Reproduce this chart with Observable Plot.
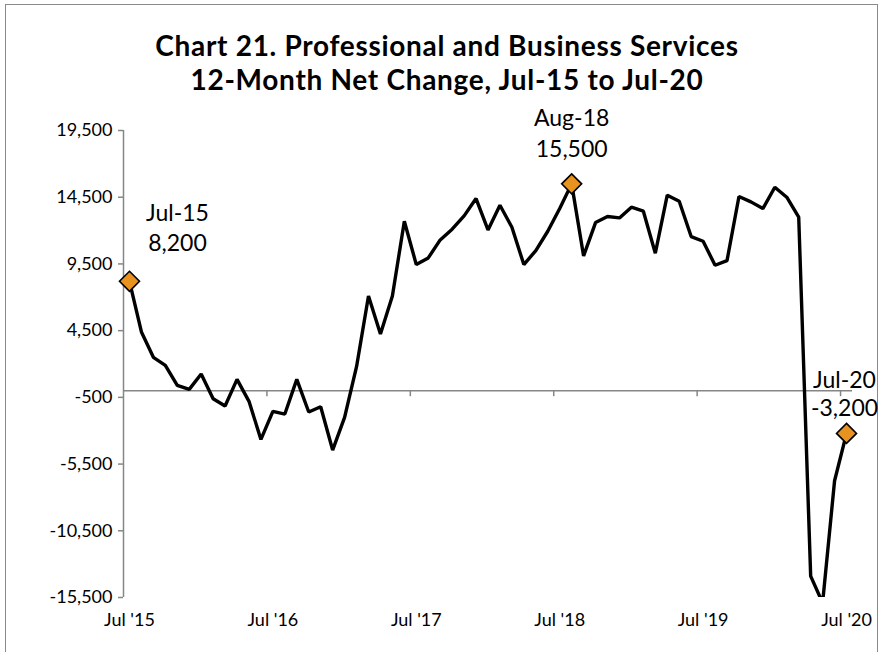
<!DOCTYPE html>
<html>
<head>
<meta charset="utf-8">
<script src="https://cdn.jsdelivr.net/npm/d3@7"></script>
<script src="https://cdn.jsdelivr.net/npm/@observablehq/plot@0.6"></script>
<style>
  body { margin: 0; background: #fff; }
  #wrap { position: relative; width: 883px; height: 652px; overflow: hidden; font-family: Lato, "Noto Sans", sans-serif; color: #000; }
  #frame { position: absolute; left: 5px; top: 4px; width: 873px; height: 700px; border: 1.5px solid #8a8a8a; box-sizing: border-box; }
  #title { position: absolute; left: 0; top: 28px; width: 894px; text-align: center; font-weight: bold; font-size: 28px; line-height: 34px; letter-spacing: 0.7px; }
  #chart { position: absolute; left: 0; top: 0; }
</style>
</head>
<body>
<div id="wrap">
  <div id="frame"></div>
  <div id="chart"></div>
  <div id="title">Chart 21. Professional and Business Services<br>12-Month Net Change, Jul-15 to Jul-20</div>
</div>
<script>
// Monthly 12-month net change, Jul-2015 .. Jul-2020
const months = d3.utcMonth.range(new Date(Date.UTC(2015, 6, 1)), new Date(Date.UTC(2020, 7, 1)));
const monthLabels = months.map(d3.utcFormat("%b-%y"));
const values = [
  8200, 4400, 2500, 1900, 400, 100, 1250, -600, -1150, 850, -800, -3650,
  -1550, -1750, 850, -1600, -1200, -4450, -2000, 1800, 7100, 4250, 7100, 12700,
  9450, 9950, 11300, 12100, 13100, 14400, 12050, 13900, 12250, 9450, 10500, 11950,
  13650, 15500, 10100, 12600, 13050, 12950, 13750, 13450, 10300, 14650, 14200, 11550,
  11200, 9400, 9750, 14550, 14150, 13650, 15250, 14500, 13000, -13900, -15900, -6750,
  -3200
];
const highlighted = ["Jul-15", "Aug-18", "Jul-20"];
const yTicks = [-15500, -10500, -5500, -500, 4500, 9500, 14500, 19500];
const xTickMonths = ["Jul-15", "Jul-16", "Jul-17", "Jul-18", "Jul-19", "Jul-20"];
const xTickLabels = ["Jul '15", "Jul '16", "Jul '17", "Jul '18", "Jul '19", "Jul '20"];

const data = values.map((v, i) => ({i, v, label: monthLabels[i]}));
const hl = data.filter(d => highlighted.includes(d.label));
const xTickIdx = xTickMonths.map(m => monthLabels.indexOf(m));
const boundaries = xTickIdx.slice(1).map(i => i - 0.5);
const fmt = d3.formatLocale({decimal: ".", thousands: ",", grouping: [3], currency: ["$", ""], minus: "-"}).format(",");
const labelText = d => `${d.label}\n${fmt(d.v)}`;

const axisGray = "#868686";
const font = "Lato, 'Noto Sans', sans-serif";
const chart = Plot.plot({
  width: 883,
  height: 652,
  marginTop: 130,
  marginBottom: 55,
  marginLeft: 123,
  marginRight: 31,
  style: { fontFamily: font, fontSize: "18px", color: "#000", background: "transparent", overflow: "visible" },
  x: { type: "linear", domain: [-0.5, values.length - 0.5] },
  y: { domain: [yTicks[0], yTicks[yTicks.length - 1]] },
  marks: [
    Plot.ruleY([0], { stroke: axisGray, strokeWidth: 1.5 }),
    Plot.ruleX(boundaries, { x: d => d, y1: 0, y2: 0, insetBottom: -6, stroke: axisGray, strokeWidth: 1.5 }),
    Plot.ruleX([-0.5], { stroke: axisGray, strokeWidth: 1.5 }),
    Plot.axisY({ ticks: yTicks, tickSize: 5, tickPadding: 6, stroke: axisGray, strokeWidth: 1.5, tickFormat: fmt, fontSize: 18, label: null }),
    Plot.axisX({ ticks: xTickIdx, tickSize: 0, tickPadding: 16, tickFormat: d => xTickLabels[xTickIdx.indexOf(d)], fontSize: 18, label: null }),
    Plot.line(data, { x: "i", y: "v", stroke: "#000", strokeWidth: 3.4, strokeLinejoin: "miter", clip: true }),
    Plot.dot(hl, { x: "i", y: "v", symbol: "diamond2", r: 9, fill: "#E8931F", stroke: "#000", strokeWidth: 1.6 }),
    Plot.text(hl.filter(d => d.label === "Jul-15"), { x: "i", y: "v", text: labelText, dx: 48, dy: -55, fontSize: 23, lineHeight: 1.33 }),
    Plot.text(hl.filter(d => d.label === "Aug-18"), { x: "i", y: "v", text: labelText, dx: 0, dy: -52, fontSize: 23, lineHeight: 1.33 }),
    Plot.text(hl.filter(d => d.label === "Jul-20"), { x: "i", y: "v", text: labelText, dx: -2, dy: -40, fontSize: 23, lineHeight: 1.22 })
  ]
});
document.getElementById("chart").appendChild(chart);
</script>
</body>
</html>
